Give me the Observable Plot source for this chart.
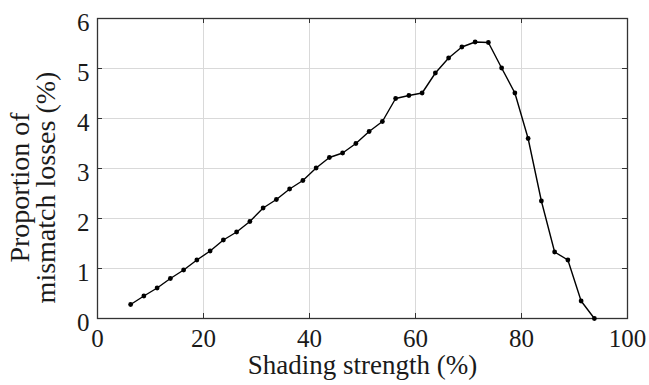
<!DOCTYPE html>
<html>
<head>
<meta charset="utf-8">
<script src="https://cdn.jsdelivr.net/npm/d3@7"></script>
<script src="https://cdn.jsdelivr.net/npm/@observablehq/plot@0.6"></script>
<style>
  html, body { margin: 0; padding: 0; background: #fff; }
  #chart svg { display: block; }
  #chart svg text { font-family: "Liberation Serif", "Times New Roman", serif !important; }
</style>
</head>
<body>
<div id="chart"></div>
<script>
const shading = [6.25, 8.75, 11.25, 13.75, 16.25, 18.75, 21.25, 23.75, 26.25, 28.75,
  31.25, 33.75, 36.25, 38.75, 41.25, 43.75, 46.25, 48.75, 51.25, 53.75,
  56.25, 58.75, 61.25, 63.75, 66.25, 68.75, 71.25, 73.75, 76.25, 78.75,
  81.25, 83.75, 86.25, 88.75, 91.25, 93.75];
const losses = [0.28, 0.45, 0.61, 0.80, 0.97, 1.17, 1.35, 1.57, 1.73, 1.94,
  2.21, 2.38, 2.59, 2.76, 3.01, 3.22, 3.31, 3.50, 3.74, 3.94,
  4.40, 4.46, 4.51, 4.91, 5.21, 5.43, 5.53, 5.52, 5.01, 4.51,
  3.60, 2.35, 1.33, 1.17, 0.35, 0.00];
const xTicks = [0, 20, 40, 60, 80, 100];
const yTicks = [0, 1, 2, 3, 4, 5, 6];
const xTitle = "Shading strength (%)";
const yTitle = "Proportion of\nmismatch losses (%)";

const data = shading.map((s, i) => ({s, v: losses[i]}));
const font = "Liberation Serif, Times New Roman, serif";
const fmt = d3.format("d");
const ink = "#1a1a1a";
const tickColor = "#333";

const chart = Plot.plot({
  width: 649,
  height: 385,
  marginTop: 18,
  marginRight: 22,
  marginBottom: 67,
  marginLeft: 97,
  style: {fontFamily: font, background: "#fff", color: ink},
  x: {domain: [0, 100], ticks: xTicks},
  y: {domain: [0, 6], ticks: yTicks},
  marks: [
    Plot.gridX(xTicks, {stroke: "#d9d9d9", strokeOpacity: 1}),
    Plot.gridY(yTicks, {stroke: "#d9d9d9", strokeOpacity: 1}),
    // inward tick marks on all four sides
    Plot.ruleX(xTicks, {stroke: tickColor, insetTop: 295}),
    Plot.ruleX(xTicks, {stroke: tickColor, insetBottom: 295}),
    Plot.ruleY(yTicks, {stroke: tickColor, insetRight: 525}),
    Plot.ruleY(yTicks, {stroke: tickColor, insetLeft: 525}),
    Plot.axisX(xTicks, {anchor: "bottom", tickSize: 0, tickPadding: 11, tickFormat: fmt,
      fontSize: 25, fontFamily: font, fill: ink, label: null}),
    Plot.axisY(yTicks, {anchor: "left", tickSize: 0, tickPadding: 8, dy: 4, tickFormat: fmt,
      fontSize: 25, fontFamily: font, fill: ink, label: null}),
    Plot.frame({stroke: "#333", strokeWidth: 1.3}),
    Plot.line(data, {x: "s", y: "v", stroke: "#000", strokeWidth: 1.4}),
    Plot.dot(data, {x: "s", y: "v", r: 2.4, fill: "#000", stroke: "none"}),
    Plot.text([xTitle], {frameAnchor: "bottom", textAnchor: "middle", lineAnchor: "top", dy: 36,
      fontSize: 27, fontFamily: font, fill: ink}),
    Plot.text([yTitle], {frameAnchor: "left", textAnchor: "middle", rotate: -90, lineAnchor: "middle",
      lineHeight: 0.95, dx: -64, dy: 19, fontSize: 28, fontFamily: font, fill: ink})
  ]
});
document.getElementById("chart").appendChild(chart);
</script>
</body>
</html>
